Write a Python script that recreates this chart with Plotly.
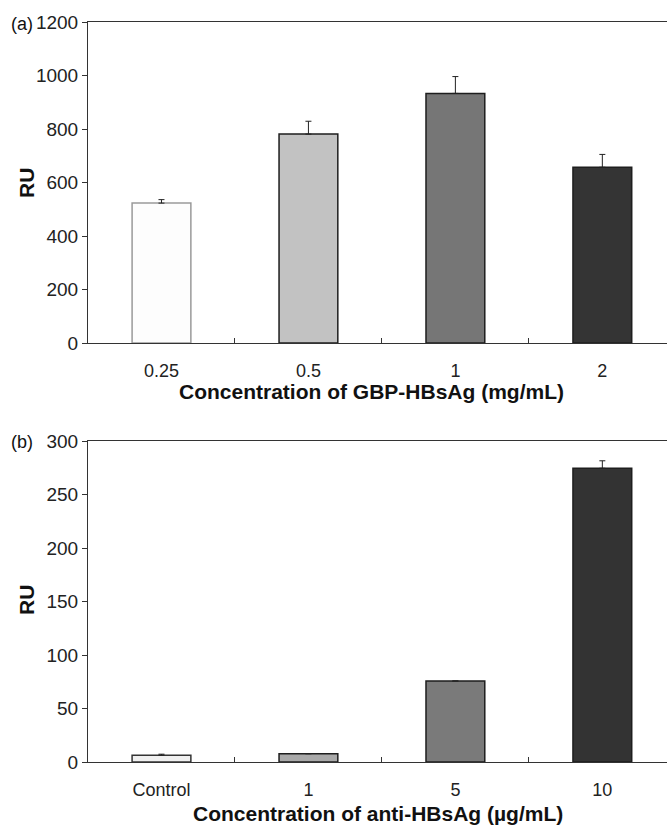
import plotly.graph_objects as go

# Data
cats_a = ["0.25", "0.5", "1", "2"]
ru_a = [523, 781, 933, 657]
err_a = [13, 48, 63, 48]

cats_b = ["Control", "1", "5", "10"]
ru_b = [6.3, 7.8, 75.7, 274.5]
err_b = [1, 0, 0, 7]

colors_a = ["#fdfdfd", "#c2c2c2", "#767676", "#343434"]
colors_b = ["#f0f0f0", "#a9a9a9", "#7a7a7a", "#333333"]
lines_a = ["#9a9a9a", "#1e1e1e", "#1e1e1e", "#1e1e1e"]
lines_b = ["#333333", "#1e1e1e", "#1e1e1e", "#1e1e1e"]

W, H = 667, 825
FONT = "Liberation Sans, Arial, sans-serif"

def px_x(x):
    return x / W

def px_y(y):
    return (H - y) / H

fig = go.Figure()
fig.add_trace(go.Bar(
    x=cats_a, y=ru_a, width=0.4,
    marker=dict(color=colors_a, line=dict(color=lines_a, width=1.5)),
    error_y=dict(type="data", array=err_a, arrayminus=[0]*4, symmetric=False,
                 color="#222", thickness=1, width=3),
    xaxis="x", yaxis="y", showlegend=False))
fig.add_trace(go.Bar(
    x=cats_b, y=ru_b, width=0.4,
    marker=dict(color=colors_b, line=dict(color=lines_b, width=1.5)),
    error_y=dict(type="data", array=err_b, arrayminus=[0]*4, symmetric=False,
                 color="#222", thickness=1, width=3),
    xaxis="x2", yaxis="y2", showlegend=False))

xcommon = dict(type="category", range=[-0.5, 3.44], showline=True, linecolor="#333",
               linewidth=1, mirror=True, ticks="inside", ticklen=5, tickcolor="#333",
               tickson="boundaries", showgrid=False, zeroline=False, automargin=False,
               tickfont=dict(family=FONT, size=18, color="#222"),
               ticklabelstandoff=11)
ycommon = dict(showline=True, linecolor="#333", linewidth=1, ticks="outside",
               ticklen=5, tickcolor="#333", showgrid=False, zeroline=False,
               automargin=False,
               tickfont=dict(family=FONT, size=19, color="#222"))

fig.update_layout(
    width=W, height=H,
    margin=dict(l=0, r=0, t=0, b=0, pad=0, autoexpand=False),
    paper_bgcolor="white", plot_bgcolor="white",
    bargap=0.6,
    xaxis=dict(domain=[px_x(88), 1], anchor="y", **xcommon),
    yaxis=dict(domain=[px_y(343), px_y(22)], anchor="x", range=[0, 1200],
               tickvals=[0, 200, 400, 600, 800, 1000, 1200], **ycommon),
    xaxis2=dict(domain=[px_x(88), 1], anchor="y2", **xcommon),
    yaxis2=dict(domain=[px_y(762), px_y(441)], anchor="x2", range=[0, 300],
                tickvals=[0, 50, 100, 150, 200, 250, 300], **ycommon),
    font=dict(family=FONT),
)

annots = [
    dict(text="(a)", x=px_x(22), y=px_y(24), size=18),
    dict(text="(b)", x=px_x(22), y=px_y(442), size=18),
    dict(text="<b>RU</b>", x=px_x(26), y=px_y(183), textangle=-90, size=21),
    dict(text="<b>RU</b>", x=px_x(26), y=px_y(600), textangle=-90, size=21),
    dict(text="<b>Concentration of GBP-HBsAg (mg/mL)</b>", x=px_x(371), y=px_y(392), size=21),
    dict(text="<b>Concentration of anti-HBsAg (µg/mL)</b>", x=px_x(378), y=px_y(813), size=21),
]
for a in annots:
    fig.add_annotation(text=a["text"], x=a["x"], y=a["y"], xref="paper", yref="paper",
                       showarrow=False, xanchor="center", yanchor="middle",
                       textangle=a.get("textangle", 0),
                       font=dict(family=FONT, size=a.get("size", 17), color="#111"))

fig.write_html("out.html", config={"displayModeBar": False, "staticPlot": True},
               post_script="document.body.style.margin='0';document.body.style.overflow='hidden';")
